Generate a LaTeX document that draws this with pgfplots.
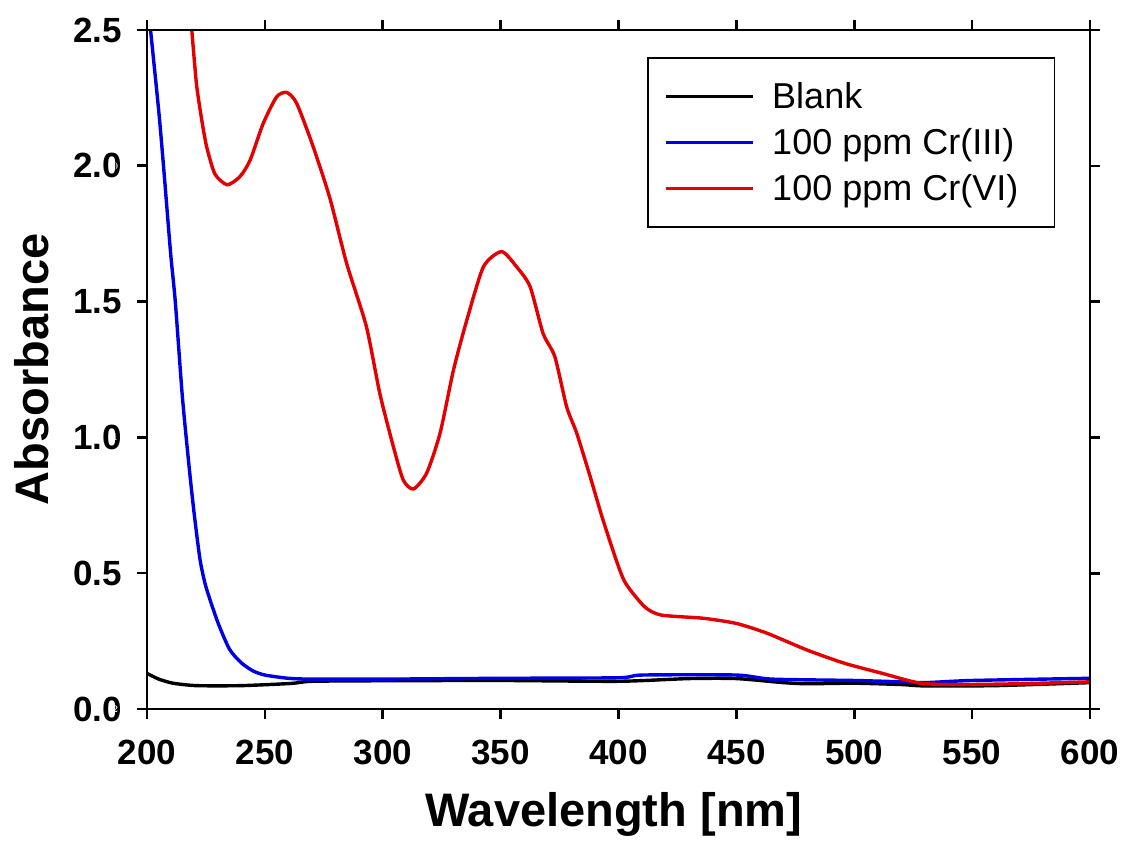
\documentclass[border=0pt]{standalone}
\usepackage{pgfplots}
\pgfplotsset{compat=1.18}
\usepackage{fontspec}
\setmainfont{Liberation Sans}
\definecolor{cred}{RGB}{228,0,0}
\definecolor{cblue}{RGB}{0,0,228}
\begin{document}
\begin{tikzpicture}
\begin{axis}[
  scale only axis,
  width=471.5pt, height=339.5pt,
  xmin=200, xmax=600, ymin=0, ymax=2.5,
  xtick={200,250,...,600},
  ytick={0,0.5,...,2.5},
  yticklabel style={/pgf/number format/fixed,/pgf/number format/fixed zerofill,/pgf/number format/precision=1, xshift=-4pt},
  xticklabel style={yshift=-7pt},
  tick label style={font=\fontsize{17.5}{20}\selectfont\bfseries, /pgf/number format/assume math mode=true},
  axis line style={line width=1.4pt},
  tick style={draw=black, line width=1.3pt},
  tick align=outside,
  major tick length=5pt,
  xtick pos=lower, ytick pos=left,
  xlabel={Wavelength [nm]},
  ylabel={Absorbance},
  label style={font=\fontsize{23.5}{26}\selectfont\bfseries, inner sep=0pt},
  xlabel style={at={(axis description cs:0.495,-0.155)}, anchor=center},
  ylabel style={at={(axis description cs:-0.122,0.5)}, anchor=center},
  legend style={at={(0.963,0.960)}, anchor=north east, draw=black, line width=0.8pt,
    font=\fontsize{18}{20.5}\selectfont, row sep=4.5pt, column sep=7pt, inner xsep=8pt, inner ysep=10pt},
  legend cell align=left,
  legend image code/.code={\draw[#1, line width=1.6pt] (0pt,0pt) -- (43.5pt,0pt);},
  every axis plot/.append style={line width=1.7pt},
]
\addplot[black, smooth, tension=0.4] coordinates {
(200,0.131) (205,0.11) (211,0.095) (221,0.086) (240,0.086) (261,0.094) (270,0.102)
(300,0.104) (350,0.105) (400,0.102) (430,0.112) (450,0.112) (470,0.097) (480,0.093)
(500,0.095) (520,0.09) (530,0.085) (560,0.086) (600,0.097)};
\addlegendentry{Blank}
\addplot[cblue, smooth, tension=0.4] coordinates {
(200,2.62) (201.5,2.5) (205,2.2) (207,2.0) (210,1.68) (212,1.5) (215,1.15) (218,0.88)
(220,0.72) (222.5,0.55) (225,0.45) (230,0.32) (235,0.22) (240,0.17) (245,0.14)
(250,0.125) (260,0.113) (270,0.11) (300,0.11) (350,0.113) (400,0.115) (410,0.125)
(450,0.125) (465,0.11) (500,0.105) (520,0.10) (530,0.097) (550,0.105) (600,0.113)};
\addlegendentry{100 ppm Cr(III)\hspace*{10pt}}
\addplot[cred, smooth, tension=0.4] coordinates {
(218.5,2.56) (219,2.5) (221,2.3) (223.2,2.17) (225.3,2.07) (228.8,1.97) (234,1.93)
(239.4,1.96) (243.7,2.02) (249.3,2.156) (255,2.254) (259.3,2.27) (263.5,2.23)
(270.5,2.07) (277.6,1.88) (284.7,1.64) (293,1.41) (298.8,1.16) (304.5,0.966)
(308.7,0.843) (313,0.81) (318.6,0.868) (324.3,1.015) (330,1.248) (335.6,1.43)
(342.7,1.628) (350.4,1.684) (356.8,1.628) (362.5,1.555) (368,1.383) (373,1.297)
(378,1.113) (382.3,1.015) (388,0.855) (393,0.708) (399,0.549) (403,0.463)
(411,0.377) (418,0.346) (436,0.334) (450,0.315) (463,0.279) (480,0.217)
(496,0.168) (512,0.131) (528,0.095) (545,0.09) (570,0.093) (600,0.10)};
\addlegendentry{100 ppm Cr(VI)}
\end{axis}
% overlay axis, both directions reversed, so that its upper/right ticks fall on the bottom and left edges
\begin{axis}[
  scale only axis,
  width=471.5pt, height=339.5pt,
  xmin=200, xmax=600, ymin=0, ymax=2.5,
  x dir=reverse, y dir=reverse,
  xtick={200,250,...,600},
  ytick={0,0.5,...,2.5},
  xtick pos=upper, ytick pos=right,
  xticklabel pos=lower, yticklabel pos=left,
  tick label style={font=\fontsize{0.5}{0.5}\selectfont\color{white}},
  axis line style={line width=1.4pt},
  tick style={draw=black, line width=1.3pt},
  tick align=outside,
  major tick length=5pt,
]
\end{axis}
\pgfresetboundingbox
\path (-73.5pt,-67.5pt) rectangle (489pt,354.5pt);
\end{tikzpicture}
\end{document}
